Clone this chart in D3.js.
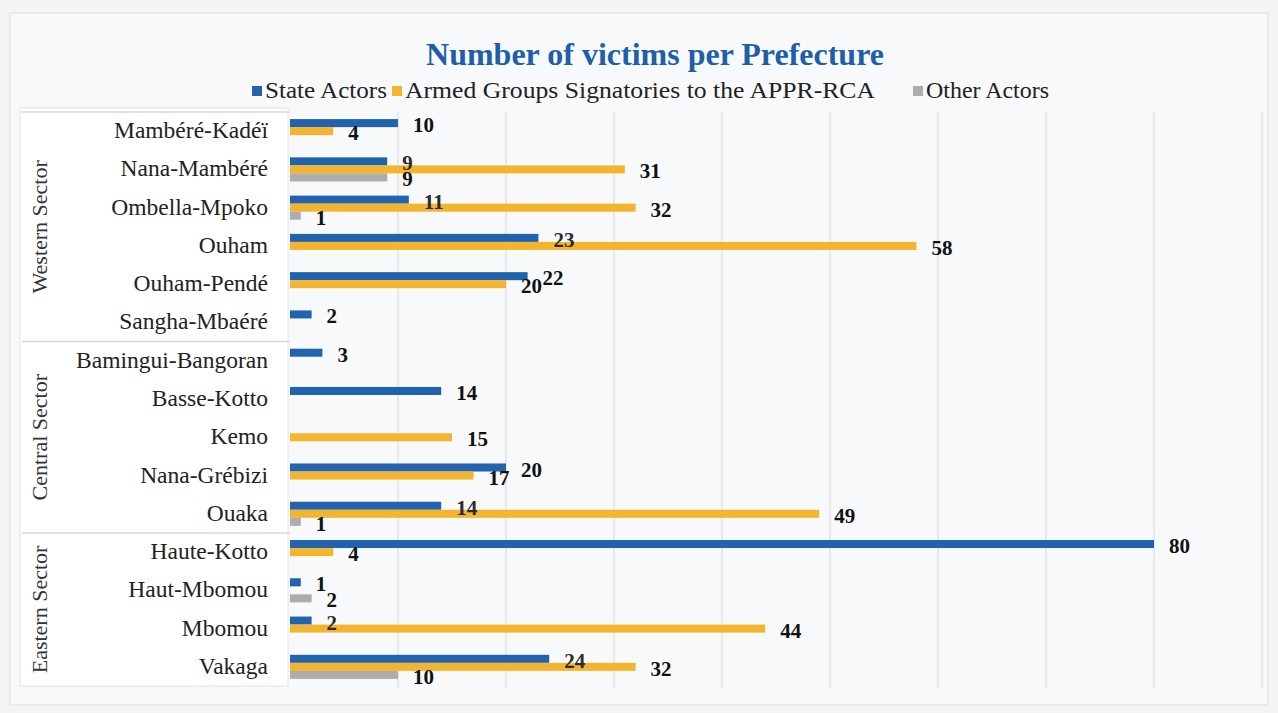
<!DOCTYPE html>
<html>
<head>
<meta charset="utf-8">
<script src="https://cdn.jsdelivr.net/npm/d3@7"></script>
<style>
  body { margin: 0; background: #f3f4f6; }
</style>
</head>
<body>
<script>
const prefectures = ['Mambéré-Kadéï', 'Nana-Mambéré', 'Ombella-Mpoko', 'Ouham', 'Ouham-Pendé', 'Sangha-Mbaéré',
  'Bamingui-Bangoran', 'Basse-Kotto', 'Kemo', 'Nana-Grébizi', 'Ouaka',
  'Haute-Kotto', 'Haut-Mbomou', 'Mbomou', 'Vakaga'];
const sectorOf = ['Western Sector', 'Western Sector', 'Western Sector', 'Western Sector', 'Western Sector', 'Western Sector',
  'Central Sector', 'Central Sector', 'Central Sector', 'Central Sector', 'Central Sector',
  'Eastern Sector', 'Eastern Sector', 'Eastern Sector', 'Eastern Sector'];
const seriesNames = ['State Actors', 'Armed Groups Signatories to the APPR-RCA', 'Other Actors'];
const stateActors = [10, 9, 11, 23, 22, 2, 3, 14, 0, 20, 14, 80, 1, 2, 24];
const armedGroups = [4, 31, 32, 58, 20, 0, 0, 0, 15, 17, 49, 4, 0, 44, 32];
const otherActors = [0, 9, 1, 0, 0, 0, 0, 0, 0, 0, 1, 0, 2, 0, 10];
const colors = ['#2163ad', '#f3b52f', '#adadad'];

const serif = "'Liberation Serif', serif";
const width = 1278, height = 713;
const svg = d3.select('body').append('svg')
  .attr('width', width)
  .attr('height', height);

// frame
svg.append('rect')
  .attr('x', 10).attr('y', 13)
  .attr('width', 1258).attr('height', 692)
  .attr('fill', '#f8f9fb')
  .attr('stroke', '#dcdde0');

const x = d3.scaleLinear().domain([0, 90]).range([290, 1262]);
const y = d3.scaleBand().domain(prefectures).range([112, 686])
  .paddingInner(0.37).paddingOuter(0.185);
const y1 = d3.scaleBand().domain(seriesNames).range([0, y.bandwidth()]);
const gap = (y.step() - y.bandwidth()) / 2;

const rows = prefectures.map((p, i) => ({
  name: p,
  values: [stateActors[i], armedGroups[i], otherActors[i]]
}));

// gridlines
svg.append('g').selectAll('line')
  .data(x.ticks(9).filter(t => t > 0))
  .enter().append('line')
  .attr('x1', d => x(d)).attr('x2', d => x(d))
  .attr('y1', 112).attr('y2', 689)
  .attr('stroke', '#dcdde1')
  .attr('stroke-width', 1.2);

// label panel
svg.append('rect')
  .attr('x', 20).attr('y', 108)
  .attr('width', 268).attr('height', 578)
  .attr('fill', '#ffffff')
  .attr('stroke', '#e2e3e6');

const sectors = Array.from(new Set(sectorOf));
const sectorSpans = sectors.map(s => {
  const members = prefectures.filter((p, i) => sectorOf[i] === s);
  return {
    name: s,
    top: y(members[0]) - gap,
    bottom: y(members[members.length - 1]) + y.bandwidth() + gap
  };
});

svg.append('g').selectAll('line')
  .data(sectorSpans)
  .enter().append('line')
  .attr('x1', 22).attr('x2', 290)
  .attr('y1', d => d.top).attr('y2', d => d.top)
  .attr('stroke', '#d6d7da')
  .attr('stroke-width', 1.5);

svg.append('g').selectAll('text')
  .data(sectorSpans)
  .enter().append('text')
  .attr('transform', d => `translate(47,${(d.top + d.bottom) / 2}) rotate(-90)`)
  .attr('text-anchor', 'middle')
  .style('font-family', serif)
  .attr('font-size', 22)
  .attr('fill', '#333')
  .text(d => d.name);

// category labels
svg.append('g').selectAll('text')
  .data(rows)
  .enter().append('text')
  .attr('x', 268)
  .attr('y', d => y(d.name) + y.bandwidth() / 2 + 7)
  .attr('text-anchor', 'end')
  .style('font-family', serif)
  .attr('font-size', 23.5)
  .attr('fill', '#222')
  .text(d => d.name);

// bars
const groups = svg.append('g').selectAll('g')
  .data(rows)
  .enter().append('g')
  .attr('transform', d => `translate(0,${y(d.name)})`);

const cells = d => d.values.map((v, k) => ({
  series: seriesNames[k],
  k: k,
  value: v,
  next: k < 2 ? d.values[k + 1] : 0
})).filter(c => c.value > 0);

groups.selectAll('rect')
  .data(cells)
  .enter().append('rect')
  .attr('x', x(0))
  .attr('y', c => y1(c.series))
  .attr('width', c => x(c.value) - x(0))
  .attr('height', y1.bandwidth())
  .attr('fill', c => colors[c.k]);

groups.selectAll('text')
  .data(cells)
  .enter().append('text')
  .attr('x', c => x(c.value) + 15)
  .attr('y', c => y1(c.series) + y1.bandwidth() / 2 + 9)
  .style('font-family', serif)
  .attr('font-size', 21)
  .attr('font-weight', 'bold')
  .attr('fill', c => c.next > c.value ? '#2b2b2b' : '#111')
  .text(c => c.value);

// title
svg.append('text')
  .attr('x', 655).attr('y', 65)
  .attr('text-anchor', 'middle')
  .style('font-family', serif)
  .attr('font-size', 32)
  .attr('font-weight', 'bold')
  .attr('fill', '#1f5ea8')
  .text('Number of victims per Prefecture');

// legend
const legendX = [252, 392, 913];
const legendW = [122, 470, 123];
const legend = svg.append('g').selectAll('g')
  .data(seriesNames)
  .enter().append('g')
  .attr('transform', (d, i) => `translate(${legendX[i]},0)`);

legend.append('rect')
  .attr('x', 0).attr('y', 86)
  .attr('width', 10).attr('height', 10)
  .attr('fill', (d, i) => colors[i]);

legend.append('text')
  .attr('x', 13).attr('y', 98)
  .style('font-family', serif)
  .attr('font-size', 23)
  .attr('textLength', (d, i) => legendW[i])
  .attr('lengthAdjust', 'spacingAndGlyphs')
  .attr('fill', '#222')
  .text(d => d);
</script>
</body>
</html>
